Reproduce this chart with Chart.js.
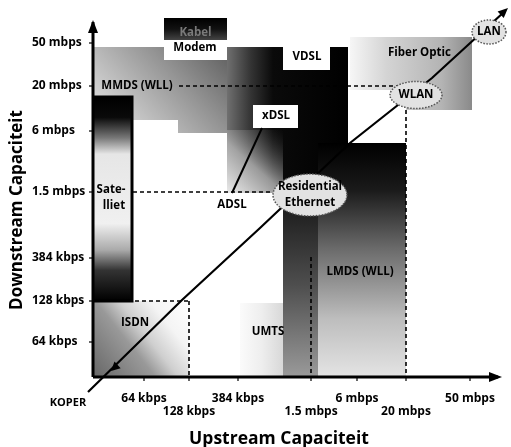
<!DOCTYPE html>
<html><head><meta charset="utf-8">
<script src="https://cdn.jsdelivr.net/npm/chart.js@4.4.1/dist/chart.umd.min.js"></script>
<style>html,body{margin:0;padding:0;background:#fff;overflow:hidden}#wrap{width:511px;height:447px}</style>
</head><body><div id="wrap"><canvas id="c" width="511" height="447"></canvas></div>
<script>
// ---- tick labels (schematic axes, positions in grid units) ----
const xTickLabels = ['64 kbps','128 kbps','384 kbps','1.5 mbps','6 mbps','20 mbps','50 mbps'];
const xTickPos    = [1.02, 1.92, 2.9, 4.36, 5.28, 6.26, 7.54];
const yTickLabels = ['64 kbps','128 kbps','384 kbps','1.5 mbps','6 mbps','20 mbps','50 mbps'];
const yTickPos    = [0.7, 1.52, 2.38, 3.7, 4.92, 5.82, 6.68];

// ---- technology regions (upstream x downstream), grid units ----
const regionMmdsCable = [[0,6.6],[2.68,6.6],[2.68,4.88],[1.7,4.88],[1.7,5.14],[0.78,5.14],[0.78,5.6],[0,5.6]];
const regionVdsl      = [[2.68,6.6],[5.1,6.6],[5.1,3.68],[2.68,3.68]];
const regionAdsl      = [[2.68,4.94],[3.8,4.94],[3.8,3.68],[2.68,3.68]];
const regionFiber     = [[5.14,6.8],[7.58,6.8],[7.58,5.34],[6.26,5.34],[6.26,5.74],[5.14,5.74]];
const regionLmds      = [[4.5,4.68],[6.26,4.68],[6.26,0],[4.5,0]];
const regionUmtsCore  = [[3.8,3.68],[4.5,3.68],[4.5,0],[3.8,0]];
const regionUmtsEdge  = [[2.94,1.48],[3.8,1.48],[3.8,0],[2.94,0]];
const regionIsdn      = [[0,0],[1.92,0],[1.92,1.52],[0,1.52]];
const regionSatellite = [[0,1.52],[0.78,1.52],[0.78,5.6],[0,5.6]];
const boxKabel        = [[1.42,7.18],[2.68,7.18],[2.68,6.74],[1.42,6.74]];
const boxModem        = [[1.42,6.74],[2.68,6.74],[2.68,6.34],[1.42,6.34]];
const boxVdsl         = [[3.8,6.6],[4.74,6.6],[4.74,6.14],[3.8,6.14]];
const boxXdsl         = [[3.2,5.44],[4.1,5.44],[4.1,4.98],[3.2,4.98]];

// ---- lines ----
const lineCopperToLan = [[-0.1,-0.3],[1.78,1.54],[3.34,2.98],[5.14,4.68],[6.78,5.98],[8.22,7.3]];
const lineAdsl        = [[2.78,3.68],[3.38,4.98]];
const dash20mH   = [[1.72,5.82],[6.1,5.82]];
const dash15mH   = [[0.8,3.7],[3.6,3.7]];
const dash128kH  = [[0,1.52],[1.92,1.52]];
const dash128kV  = [[1.92,1.52],[1.92,0]];
const dash15mV   = [[4.36,2.4],[4.36,0]];
const dash20mV   = [[6.26,5.34],[6.26,0]];
const axisX      = [[0,0],[8.1,0]];
const axisY      = [[0,0],[0,7.1]];

// ---- labels (text, anchor in grid units) ----
const regionLabels = [
  ['Modem',2.04,6.58],['VDSL',4.28,6.4],['MMDS (WLL)',0.88,5.82],['xDSL',3.66,5.22],
  ['Sate-',0.36,3.74],['lliet',0.42,3.42],['ADSL',2.78,3.44],['LMDS (WLL)',5.34,2.1],
  ['UMTS',3.5,0.9],['ISDN',0.84,1.08]
];
const bubbles = [
  {lines:['Residential','Ethernet'], x:4.34, y:3.64, rx:0.74, ry:0.42},
  {lines:['WLAN'], x:6.46, y:5.64, rx:0.52, ry:0.27},
  {lines:['LAN'], x:7.92, y:6.9, rx:0.34, ry:0.24}
];

const FONT = '"Open Sans", "DejaVu Sans", sans-serif';
const pts = a => a.map(([x,y]) => ({x, y}));

function px(chart, x, y){ return [chart.scales.x.getPixelForValue(x), chart.scales.y.getPixelForValue(y)]; }
function lin(x0,y0,x1,y1,stops,fallback){
  return (c) => {
    const ch = c.chart; if (!ch.chartArea || !ch.scales.x) return fallback;
    const [a,b] = px(ch,x0,y0), [e,f] = px(ch,x1,y1);
    const g = ch.ctx.createLinearGradient(a,b,e,f);
    stops.forEach(([o,col]) => g.addColorStop(o,col));
    return g;
  };
}

const seq = [];
function region(id, poly, bg, extra){ seq.push(Object.assign({id, type:'line', data:pts(poly), fill:'shape', backgroundColor:bg, borderWidth:0, borderColor:'rgba(0,0,0,0)', pointRadius:0, tension:0}, extra||{})); }
function line(id, poly, w, dash, color){ seq.push({id, type:'line', data:pts(poly), fill:false, borderColor:color||'#000', borderWidth:w, borderDash:dash||[], pointRadius:0, tension:0, borderCapStyle:'butt'}); }

region('mmds', regionMmdsCable, lin(2.68,6.6,0.78,4.88,[[0,'#5e5e5e'],[0.45,'#949494'],[1,'#d2d2d2']],'#999'));
region('vdsl', regionVdsl, lin(2.68,5,5.1,5,[[0,'#707070'],[0.2,'#333'],[0.38,'#0a0a0a'],[1,'#000']],'#000'));
region('adsl', regionAdsl, lin(2.68,3.68,3.8,4.94,[[0,'rgba(235,235,235,1)'],[0.45,'rgba(175,175,175,0.85)'],[1,'rgba(60,60,60,0)']],'#aaa'));
region('fiber', regionFiber, lin(5.14,6,7.58,6,[[0,'#f6f6f6'],[0.3,'#d4d4d4'],[0.75,'#b4b4b4'],[1,'#8a8a8a']],'#ccc'));
region('lmds', regionLmds, lin(5,4.68,5,0,[[0,'#000'],[0.2,'#1a1a1a'],[0.45,'#6a6a6a'],[0.75,'#bdbdbd'],[1,'#e4e4e4']],'#888'));
region('umtsCore', regionUmtsCore, lin(4,3.68,4,0,[[0,'#141414'],[0.5,'#4e4e4e'],[1,'#9a9a9a']],'#555'));
region('umtsEdge', regionUmtsEdge, lin(2.94,1,3.8,1,[[0,'#fbfbfb'],[0.5,'#eeeeee'],[1,'#d8d8d8']],'#eee'));
region('isdn', regionIsdn, lin(0,0,1.92,1.52,[[0,'#666'],[0.4,'#999'],[0.55,'#cfcfcf'],[0.75,'#f4f4f4'],[1,'#fff']],'#ddd'));
region('satellite', regionSatellite, lin(0,5.6,0,1.52,[[0,'#000'],[0.1,'#0a0a0a'],[0.2,'#777'],[0.28,'#e6e6e6'],[0.62,'#f0f0f0'],[0.75,'#aaa'],[0.85,'#333'],[1,'#000']],'#888'), {borderWidth:3, borderColor:'#000'});
region('kabel', boxKabel, lin(2,7.18,2,6.74,[[0,'#000'],[0.5,'#111'],[1,'#444']],'#111'));
region('modemBox', boxModem, '#fff');
region('vdslBox', boxVdsl, '#fff');
region('xdslBox', boxXdsl, '#fff');
line('d20mH', dash20mH, 1.6, [4,3]);
line('d15mH', dash15mH, 1.6, [4,3]);
line('d128kH', dash128kH, 1.6, [4,3]);
line('d128kV', dash128kV, 1.6, [4,3]);
line('d15mV', dash15mV, 1.6, [4,3]);
line('d20mV', dash20mV, 1.6, [4,3]);
line('adslLine', lineAdsl, 2);
line('axisX', axisX, 3);
line('axisY', axisY, 3);
line('diag', lineCopperToLan, 2.2);
seq.forEach((d,i) => d.order = seq.length - i);

function text(ctx, s, x, y, size, color, align){
  ctx.font = '700 ' + size + 'px ' + FONT;
  ctx.fillStyle = color || '#000';
  ctx.textAlign = align || 'center';
  ctx.textBaseline = 'middle';
  ctx.fillText(s, x, y);
}
function arrow(ctx, tx, ty, fx, fy, len, half){
  const ang = Math.atan2(ty-fy, tx-fx);
  ctx.beginPath();
  ctx.moveTo(tx, ty);
  ctx.lineTo(tx - len*Math.cos(ang) + half*Math.sin(ang), ty - len*Math.sin(ang) - half*Math.cos(ang));
  ctx.lineTo(tx - len*Math.cos(ang) - half*Math.sin(ang), ty - len*Math.sin(ang) + half*Math.cos(ang));
  ctx.closePath(); ctx.fillStyle = '#000'; ctx.fill();
}

const schematic = {
  id:'schematic',
  afterDatasetDraw(chart, args){
    if (args.meta._dataset.id !== 'd20mV') return;
    const ctx = chart.ctx; ctx.save();
    const [kx,ky] = px(chart, 2.05, 6.88);
    text(ctx, 'Kabel', kx, ky, 11.5, '#7a7a7a');
    regionLabels.forEach(([s,x,y]) => { const [a,b] = px(chart,x,y); text(ctx, s, a, b, 11.5); });
    const [fx,fy] = px(chart, 5.9, 6.48);
    text(ctx, 'Fiber Optic', fx, fy, 11.5, '#000', 'left');
    ctx.restore();
  },
  afterDatasetsDraw(chart){
    const ctx = chart.ctx; ctx.save();
    // bubbles
    bubbles.forEach(b => {
      const [cx,cy] = px(chart,b.x,b.y);
      const rx = Math.abs(px(chart,b.x+b.rx,b.y)[0]-cx), ry = Math.abs(px(chart,b.x,b.y+b.ry)[1]-cy);
      ctx.beginPath(); ctx.ellipse(cx,cy,rx,ry,0,0,Math.PI*2);
      ctx.fillStyle = '#e2e2e2'; ctx.fill();
      ctx.setLineDash([1.5,1.5]); ctx.lineWidth = 1.5; ctx.strokeStyle = '#555'; ctx.stroke(); ctx.setLineDash([]);
      const n = b.lines.length;
      b.lines.forEach((s,i) => text(ctx, s, cx, cy + (i - (n-1)/2)*16, 11.5));
    });
    // arrowheads
    const [ox,oy] = px(chart,0,0);
    const [xe,xey] = px(chart,8.18,0); arrow(ctx, xe, xey, ox, oy, 13, 5);
    const [ye,yey] = px(chart,0,7.14); arrow(ctx, ye, yey, ox, oy, 13, 5);
    const d = lineCopperToLan, L = d.length;
    const [t1,t2] = px(chart, d[L-1][0], d[L-1][1]), [f1,f2] = px(chart, d[L-2][0], d[L-2][1]);
    arrow(ctx, t1+4, t2-4, f1, f2, 10, 4.5);
    const [s1,s2] = px(chart, 0.36, 0.12), [s3,s4] = px(chart, 1.0, 0.72);
    arrow(ctx, s1, s2, s3, s4, 9, 4.5);
    // ticks
    ctx.strokeStyle = '#000'; ctx.lineWidth = 1.2;
    yTickPos.forEach(v => { const [a,b] = px(chart,0,v); ctx.beginPath(); ctx.moveTo(a-4,b); ctx.lineTo(a,b); ctx.stroke(); });
    xTickPos.forEach(v => { const [a,b] = px(chart,v,0); ctx.beginPath(); ctx.moveTo(a,b); ctx.lineTo(a,b+4); ctx.stroke(); });
    // tick labels
    const [lx] = px(chart,-1.22,0);
    yTickLabels.forEach((s,i) => { const [,b] = px(chart,0,yTickPos[i]); text(ctx, s, lx, b, 12, '#000', 'left'); });
    xTickLabels.forEach((s,i) => { const [a] = px(chart,xTickPos[i],0); const yy = px(chart,0, i%2 ? -0.7 : -0.44)[1]; text(ctx, s, a, yy, 12); });
    const [kx2,ky2] = px(chart,-0.5,-0.52); text(ctx, 'KOPER', kx2, ky2, 11);
    // axis titles
    const [ux,uy] = px(chart,3.72,-1.24); text(ctx, 'Upstream Capaciteit', ux, uy, 17.5);
    const [vx,vy] = px(chart,-1.52,3.34);
    ctx.save(); ctx.translate(vx,vy); ctx.rotate(-Math.PI/2); text(ctx, 'Downstream Capaciteit', 0, 0, 17); ctx.restore();
    ctx.restore();
  }
};

new Chart(document.getElementById('c'), {
  type:'scatter',
  data:{ datasets: seq },
  options:{
    responsive:false, animation:false, events:[],
    layout:{padding:0},
    plugins:{legend:{display:false}, tooltip:{enabled:false}},
    scales:{
      x:{type:'linear', min:-1.86, max:8.36, display:false},
      y:{type:'linear', min:-1.4, max:7.54, display:false}
    }
  },
  plugins:[schematic]
});
</script></body></html>
